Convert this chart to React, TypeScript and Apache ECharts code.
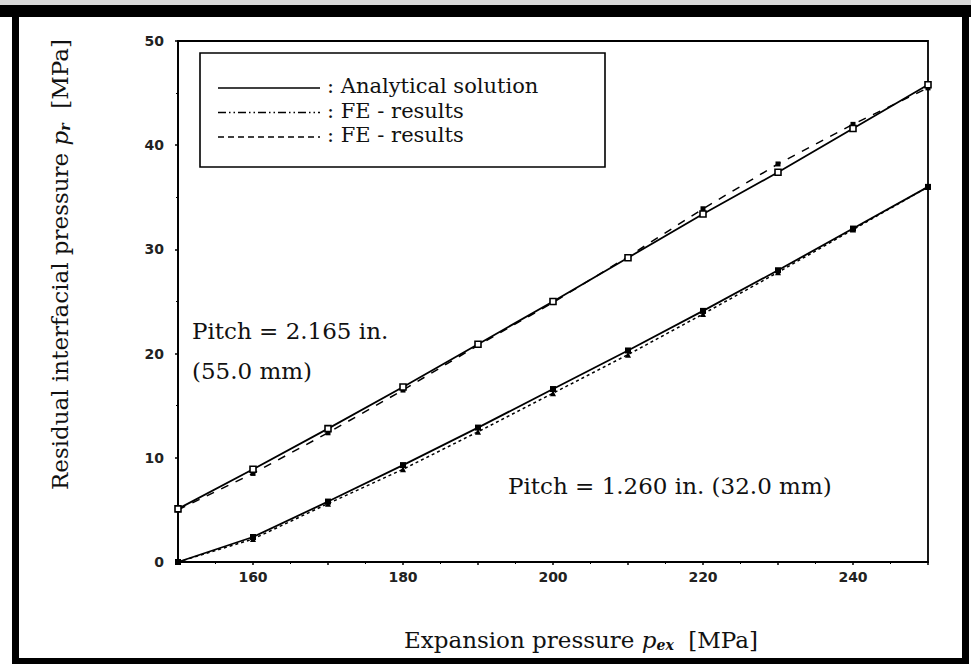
import React, { useEffect, useRef } from "react";
import * as echarts from "echarts";

const expansionPressure = [150, 160, 170, 180, 190, 200, 210, 220, 230, 240, 250];
const upperAnalytical = [5.1, 8.9, 12.8, 16.8, 20.9, 25.0, 29.2, 33.4, 37.4, 41.6, 45.8];
const upperFE = [5.0, 8.5, 12.4, 16.5, 20.8, 24.9, 29.3, 33.9, 38.2, 42.0, 45.5];
const lowerAnalytical = [0.0, 2.4, 5.8, 9.3, 12.9, 16.6, 20.3, 24.1, 28.0, 32.0, 36.0];
const lowerFE = [0.0, 2.2, 5.6, 8.9, 12.5, 16.2, 19.9, 23.8, 27.8, 31.9, 36.0];
const xTickLabels = [160, 180, 200, 220, 240];
const legendLabels = [": Analytical solution", ": FE - results", ": FE - results"];

const SERIF = "'DejaVu Serif', 'Liberation Serif', serif";
const TICKFONT = "'DejaVu Sans', sans-serif";

function pairs(ys: number[]) {
  return expansionPressure.map((x, i) => [x, ys[i]]);
}

export default function App() {
  const ref = useRef<HTMLDivElement>(null);
  useEffect(() => {
    const chart = echarts.init(ref.current!, null, { renderer: "svg" });
    const lineBase = { color: "#000", width: 1.8 };
    const legendY = [86, 110.5, 135];
    const legendDash: any[] = [null, [8, 3, 1.5, 3, 1.5, 3], [6, 4]];
    const titleRich = {
      i: { fontFamily: SERIF, fontSize: 23, fontStyle: "italic", fill: "#111" },
      s: { fontFamily: SERIF, fontSize: 14, fontStyle: "italic", fontWeight: "bold", fill: "#111", padding: [9, 0, 0, 0] },
    };
    chart.setOption({
      animation: false,
      backgroundColor: "#fff",
      grid: {
        left: 178,
        right: 43,
        top: 41,
        bottom: 102,
        show: true,
        borderColor: "#000",
        borderWidth: 1.8,
      },
      xAxis: {
        type: "value",
        min: 150,
        max: 250,
        interval: 10,
        axisLine: { lineStyle: { color: "#000", width: 1.8 } },
        axisTick: { show: true, length: 3, lineStyle: { color: "#000", width: 1.5 } },
        minorTick: { show: true, splitNumber: 2, length: 2, lineStyle: { color: "#000" } },
        splitLine: { show: false },
        axisLabel: {
          margin: 8,
          fontFamily: TICKFONT,
          fontWeight: "bold",
          fontSize: 14,
          color: "#222",
          formatter: (v: number) => (xTickLabels.includes(v) ? String(v) : ""),
        },
      },
      yAxis: {
        type: "value",
        min: 0,
        max: 50,
        interval: 10,
        axisLine: { show: true, lineStyle: { color: "#000", width: 1.8 } },
        axisTick: { show: true, length: 3, lineStyle: { color: "#000", width: 1.5 } },
        minorTick: { show: true, splitNumber: 2, length: 2, lineStyle: { color: "#000" } },
        splitLine: { show: false },
        axisLabel: {
          margin: 14,
          fontFamily: TICKFONT,
          fontWeight: "bold",
          fontSize: 14,
          color: "#222",
        },
      },
      series: [
        {
          name: "Analytical solution (2.165 in.)",
          type: "line",
          data: pairs(upperAnalytical),
          lineStyle: { ...lineBase },
          symbol: "rect",
          symbolSize: 6,
          itemStyle: { color: "#fff", borderColor: "#000", borderWidth: 1.6 },
          z: 3,
        },
        {
          name: "FE - results (2.165 in.)",
          type: "line",
          data: pairs(upperFE),
          lineStyle: { ...lineBase, width: 1.5, type: [8, 8] },
          symbol: "rect",
          symbolSize: 5,
          itemStyle: { color: "#000" },
          z: 2,
        },
        {
          name: "Analytical solution (1.260 in.)",
          type: "line",
          data: pairs(lowerAnalytical),
          lineStyle: { ...lineBase },
          symbol: "rect",
          symbolSize: 6,
          itemStyle: { color: "#000" },
          z: 3,
        },
        {
          name: "FE - results (1.260 in.)",
          type: "line",
          data: pairs(lowerFE),
          lineStyle: { ...lineBase, width: 1.5, type: [3, 3] },
          symbol: "triangle",
          symbolSize: 6,
          itemStyle: { color: "#000" },
          z: 2,
        },
      ],
      graphic: [
        // outer black frame
        { type: "rect", shape: { x: 0, y: 0, width: 971, height: 5 }, style: { fill: "#d8d8d8" }, silent: true },
        { type: "rect", shape: { x: 0, y: 5, width: 971, height: 12 }, style: { fill: "#000" }, silent: true },
        { type: "rect", shape: { x: 12, y: 5, width: 7, height: 659 }, style: { fill: "#000" }, silent: true },
        { type: "rect", shape: { x: 962, y: 5, width: 7, height: 659 }, style: { fill: "#000" }, silent: true },
        { type: "rect", shape: { x: 12, y: 658, width: 957, height: 6 }, style: { fill: "#000" }, silent: true },
        // axis titles
        {
          type: "text",
          x: 758,
          y: 640,
          style: {
            text: "Expansion pressure {i|p}{s|ex}  [MPa]",
            font: `23px ${SERIF}`,
            fill: "#111",
            textAlign: "right",
            textVerticalAlign: "middle",
            rich: titleRich,
          },
          z: 11,
        },
        {
          type: "text",
          x: 60,
          y: 490,
          rotation: Math.PI / 2,
          style: {
            text: "Residual interfacial pressure {i|p}{s|r}  [MPa]",
            font: `23px ${SERIF}`,
            fill: "#111",
            textAlign: "left",
            textVerticalAlign: "middle",
            rich: titleRich,
          },
          z: 11,
        },
        // legend box
        { type: "rect", shape: { x: 200, y: 53, width: 405, height: 114 }, style: { fill: "#fff", stroke: "#000", lineWidth: 1.6 }, z: 10 },
        ...legendY.map((y, i) => ({
          type: "line",
          shape: { x1: 218, y1: y + 2, x2: 320, y2: y + 2 },
          style: { stroke: "#000", lineWidth: 1.6, lineDash: legendDash[i] },
          z: 11,
        })),
        ...legendY.map((y, i) => ({
          type: "text",
          x: 327,
          y,
          style: { text: legendLabels[i], font: `21px ${SERIF}`, fill: "#111", textVerticalAlign: "middle" },
          z: 11,
        })),
        // annotations
        { type: "text", x: 192, y: 331, style: { text: "Pitch = 2.165 in.", font: `23px ${SERIF}`, fill: "#111", textVerticalAlign: "middle" }, z: 11 },
        { type: "text", x: 192, y: 371, style: { text: "(55.0 mm)", font: `23px ${SERIF}`, fill: "#111", textVerticalAlign: "middle" }, z: 11 },
        { type: "text", x: 508, y: 486, style: { text: "Pitch = 1.260 in. (32.0 mm)", font: `23px ${SERIF}`, fill: "#111", textVerticalAlign: "middle" }, z: 11 },
      ],
    });
    return () => chart.dispose();
  }, []);
  return (
    <div
      ref={ref}
      style={{ position: "fixed", left: 0, top: 0, width: 971, height: 664, background: "#fff" }}
    />
  );
}
